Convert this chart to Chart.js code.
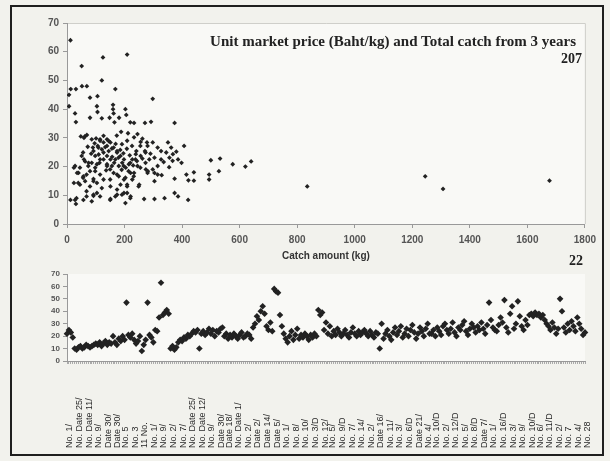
<!DOCTYPE html>
<html>
<head>
<meta charset="utf-8">
<script src="https://cdn.jsdelivr.net/npm/chart.js@4.4.1/dist/chart.umd.min.js"></script>
<style>
  body { margin: 0; background: #f2f2ed; }
  #sheet { position: relative; width: 610px; height: 461px; overflow: hidden; }
  #frame { position: absolute; left: 10px; top: 5px; width: 594px; height: 451px; box-sizing: border-box; border: 2px solid #1f1f1f; }
  canvas { position: absolute; }
  #priceChart { left: 12px; top: 8px; }
  #tripChart { left: 12px; top: 266px; }
  .note { position: absolute; font-family: "Liberation Serif", "Times New Roman", serif; font-weight: bold; color: #222; white-space: nowrap; }
  #title { right: 34px; top: 33px; font-size: 15px; }
  #n207 { right: 28px; top: 51px; font-size: 14px; }
  #n22 { right: 27px; top: 253px; font-size: 14px; }
</style>
</head>
<body>
<div id="sheet">
  <div id="frame"></div>
  <canvas id="priceChart" width="590" height="258"></canvas>
  <canvas id="tripChart" width="590" height="188"></canvas>
  <div class="note" id="title">Unit market price (Baht/kg) and Total catch from 3 years</div>
  <div class="note" id="n207">207</div>
  <div class="note" id="n22">22</div>
</div>
<script>
// catch amount (kg) per landing and its unit price (Baht/kg)
const catchKg = [
  12, 125, 209, 51, 121, 168, 13, 31, 52, 69, 7, 80, 106, 7, 104, 160, 28, 31, 80, 106,
  160, 162, 121, 148, 165, 181, 203, 206, 220, 48, 59, 69, 86, 101, 115, 127, 139, 107, 121, 90,
  145, 156, 174, 191, 209, 226, 241, 255, 273, 278, 28, 45, 59, 75, 40, 57, 80, 98, 113, 127,
  139, 150, 164, 179, 197, 214, 220, 238, 255, 273, 281, 24, 45, 63, 92, 104, 121, 150, 174, 203,
  209, 232, 249, 28, 57, 86, 104, 92, 150, 168, 191, 209, 220, 203, 31, 233, 271, 292, 298, 374,
  245, 256, 280, 298, 315, 327, 351, 362, 368, 356, 345, 327, 315, 304, 280, 298, 256, 271, 286, 245,
  233, 227, 251, 304, 274, 315, 329, 374, 398, 407, 415, 441, 422, 441, 494, 494, 500, 532, 528, 576,
  620, 640, 835, 1245, 1307, 1677, 24, 35, 39, 51, 56, 62, 56, 68, 74, 86, 98, 92, 109, 115,
  127, 139, 151, 162, 174, 186, 198, 168, 180, 192, 204, 215, 227, 239, 127, 139, 151, 156, 139, 115,
  104, 98, 115, 127, 92, 80, 68, 162, 180, 198, 209, 221, 186, 174, 151, 12, 33, 68, 92, 115,
  151, 174, 198, 221, 268, 304, 339, 374, 386, 421, 133, 145, 157, 169, 185, 196, 208, 218, 230, 243,
  262, 110, 96, 84, 72, 63, 136, 190, 173, 188, 212, 233, 262, 290, 304, 336, 355, 367, 380, 386
];
const unitPrice = [
  64, 58, 59, 55, 50, 47, 47, 47, 48, 48, 45, 44, 44.5, 41, 41, 41.5, 38.5, 35.5, 37, 39,
  40, 38.5, 36.8, 37, 35.4, 37, 40, 38, 35.4, 30.5, 30, 31, 29.5, 29.8, 29, 28.4, 27.2, 27.2, 26, 26.6,
  25.4, 26.3, 25.4, 27.8, 29, 27.2, 25.4, 27.2, 24.9, 28.4, 20.2, 19.6, 22.5, 21.3, 17.8, 16.6, 18.4, 19.6, 21.3, 22.5,
  20.2, 19, 21.3, 23.1, 20.2, 18.4, 21.3, 22.5, 19.6, 21.3, 18.4, 14.3, 13.7, 14.9, 15.7, 14.3, 12.5, 15.5, 17.2, 16.1,
  13.7, 16.6, 13.1, 8.4, 8.4, 7.9, 10.8, 9.8, 8.4, 9.6, 10.2, 10.8, 9, 7.3, 7, 35.2, 35.2, 35.6, 43.6, 35.2,
  31.3, 28.6, 27.2, 28.4, 26.6, 25.4, 28.4, 26.6, 24.3, 23.1, 24.9, 22.5, 20.2, 17.8, 17.8, 19, 23.7, 25.4, 22.5, 20.2,
  17.8, 15.5, 13.7, 14.9, 19, 17.2, 17, 15.8, 21.3, 27.2, 17.2, 18, 15.2, 15.1, 17.2, 15.5, 22.2, 22.8, 18.4, 20.8,
  20, 21.8, 13.1, 16.6, 12.2, 15.1, 19.6, 17.8, 14.3, 23.7, 24.9, 30.5, 16.1, 17.2, 20.2, 21.3, 23.7, 25.4, 26.6, 29.5,
  30.7, 29.5, 28.4, 26.6, 24.9, 23.7, 22.5, 22.5, 20.2, 21.3, 19.6, 20.8, 22.5, 24.3, 24.9, 23.7, 22.5, 20.2, 20.8, 22.5,
  20.8, 18.4, 17.2, 15.5, 14.9, 13.1, 11.4, 17.8, 16.6, 15.5, 13.1, 17.8, 13.7, 12, 13.1, 8.4, 9, 9.6, 10.2, 9.6,
  8.7, 10.2, 10.8, 9.6, 8.7, 8.7, 9, 10.8, 9.6, 8.4, 26.8, 28.9, 23.4, 27.9, 25.8, 24.6, 26.2, 23.9, 20.4, 21.9,
  22.8, 24.2, 28.1, 24.5, 26.9, 21.8, 18.7, 18.9, 30.8, 32.1, 31.6, 30.2, 29.7, 24.5, 23.1, 21.6, 19.8, 22, 25.2, 22.5
];

// unit price of each trip, in landing order
const tripPrice = [
  22, 25, 23, 19,
  10, 9, 11, 12, 10, 11, 13, 12, 11, 12, 13,
  14, 13, 15, 12, 14, 16, 13, 15, 14, 20, 15, 13,
  18, 16, 20, 17, 47, 21, 19, 22, 17, 14, 16, 20, 8,
  13, 17, 47, 21, 19, 15, 25, 24, 35, 63, 37, 39, 41, 38,
  10, 12, 9, 11, 15, 17, 16, 19, 18, 21, 20, 22, 24, 23, 25, 10,
  22, 24, 21, 23, 26, 22, 25, 20, 24, 23, 26, 27,
  20, 22, 18, 21, 19, 22, 20, 18, 21, 23, 19, 20, 22, 21, 18,
  27, 30, 36, 33, 40, 44, 38, 28, 25, 31, 24, 58, 56, 55, 37,
  28, 22, 18, 15, 20, 24, 17, 21, 26, 18, 21, 19, 22, 20, 17, 21, 19, 22, 20,
  41, 37, 39, 25, 31, 22, 28, 20,
  24, 21, 26, 23, 20, 22, 25, 21, 19, 23, 27, 22, 20, 24, 21, 23, 25, 22, 20, 24, 21, 19, 23, 22,
  10, 30,
  18, 22, 25, 20, 17, 23, 27, 21, 24, 28, 19, 22, 26, 20, 25, 29, 23, 18, 22, 27, 24, 20, 26, 30, 22,
  22, 25, 20, 27, 24, 21, 28, 30, 25, 22, 26, 31, 23, 20, 27, 25, 29, 32, 24, 21, 26, 30, 27, 23, 28,
  25, 31, 26, 22, 29, 47, 33, 27, 25,
  24, 29, 35, 31, 49, 27, 23, 38, 44, 26, 30, 48, 36, 28, 25, 33, 29,
  37, 38, 36, 39, 37, 38, 35, 37, 33, 30, 28, 25, 31, 27, 22, 26, 50, 40,
  27, 23, 30, 25, 32, 28, 24, 35, 30, 26, 21, 23
];

// trip names printed under the lower axis
const tripNames = [
  'No. 1/', 'No. Date 25/', 'No. Date 11/', 'No. 9/', 'Date 30/', 'Date 30/', 'No. 5', 'No. 3',
  '11 No.', 'No. 1/', 'No. 9/', 'No. 2/', 'No. 7/', 'No. Date 25/', 'No. Date 12/', 'No. 9/',
  'Date 30/', 'Date 18/', 'No. Date 1/', 'No. 2/', 'Date 2/', 'Date 14/', 'Date 5/', 'No. 1/',
  'No. 8/', 'No. 10/', 'No. 3/D', 'No. 12/', 'No. 5/', 'No. 9/D', 'No. 7/', 'No. 14/',
  'No. 2/', 'Date 16/', 'No. 11/', 'No. 3/', 'No. 6/D', 'Date 21/', 'No. 4/', 'No. 10/D',
  'No. 2/', 'No. 12/D', 'No. 5/', 'No. 8/D', 'Date 7/', 'No. 1/', 'No. 16/D', 'No. 3/',
  'No. 9/', 'No. 10/D', 'No. 6/', 'No. 11/D', 'No. 2/', 'No. 7', 'No. 4/', 'No. 28'
];

const tripIndex = tripPrice.map((_, i) => String(i + 1));

const inkColor = '#222';
const sansFamily = 'Liberation Sans, Arial, sans-serif';
const tickFont = { family: sansFamily, size: 10, weight: 'bold' };

// pale plot area with a thin top/right edge
const plotFrame = {
  id: 'plotFrame',
  beforeDraw(chart, args, opts) {
    const { ctx, chartArea: a } = chart;
    ctx.save();
    ctx.fillStyle = opts.fill;
    ctx.fillRect(a.left, a.top, a.width, a.height);
    if (opts.edge) {
      ctx.strokeStyle = opts.edge;
      ctx.lineWidth = 1;
      ctx.beginPath();
      ctx.moveTo(a.left, a.top + 0.5);
      ctx.lineTo(a.right + 0.5, a.top + 0.5);
      ctx.lineTo(a.right + 0.5, a.bottom);
      ctx.stroke();
    }
    ctx.restore();
  }
};

// vertical trip names, bottom aligned
const tripNameLabels = {
  id: 'tripNameLabels',
  afterDraw(chart) {
    const { ctx } = chart;
    const x = chart.scales.x;
    const base = chart.height - 6;
    ctx.save();
    ctx.font = '9px "Liberation Sans", Arial, sans-serif';
    ctx.fillStyle = '#2a2a2a';
    ctx.textAlign = 'left';
    ctx.textBaseline = 'middle';
    tripNames.forEach((name, j) => {
      const idx = Math.round(j * (tripPrice.length - 1) / (tripNames.length - 1));
      ctx.save();
      ctx.translate(x.getPixelForValue(idx) + 3, base);
      ctx.rotate(-Math.PI / 2);
      ctx.fillText(name, 0, 0);
      ctx.restore();
    });
    ctx.restore();
  }
};

new Chart(document.getElementById('priceChart'), {
  type: 'scatter',
  data: {
    datasets: [{
      data: catchKg.map((c, i) => ({ x: c, y: unitPrice[i] })),
      backgroundColor: inkColor,
      borderColor: inkColor,
      pointStyle: 'rectRot',
      pointRadius: 2.4,
      borderWidth: 0
    }]
  },
  options: {
    responsive: false,
    animation: false,
    devicePixelRatio: 1,
    layout: { padding: { top: 15, right: 15, left: 0, bottom: 0 } },
    plugins: {
      legend: { display: false },
      tooltip: { enabled: false },
      plotFrame: { fill: '#f9f9f6', edge: '#cfcfca' }
    },
    scales: {
      x: {
        type: 'linear', min: 0, max: 1800,
        ticks: { stepSize: 200, color: '#555', font: tickFont, padding: 6, maxRotation: 0, callback: v => String(v) },
        grid: { drawOnChartArea: false, tickLength: 4, color: '#999' },
        border: { color: '#999' },
        title: { display: true, text: 'Catch amount (kg)', color: '#333', font: { family: sansFamily, size: 10, weight: 'bold' }, padding: { top: 6 } },
        afterFit: s => { s.height = 42; }
      },
      y: {
        min: 0, max: 70,
        ticks: { stepSize: 10, color: '#555', font: tickFont, padding: 4 },
        grid: { drawOnChartArea: false, tickLength: 4, color: '#999' },
        border: { color: '#999' },
        afterFit: s => { s.width = 55; }
      }
    }
  },
  plugins: [plotFrame]
});

new Chart(document.getElementById('tripChart'), {
  type: 'line',
  data: {
    labels: tripIndex,
    datasets: [{
      data: tripPrice,
      showLine: false,
      backgroundColor: inkColor,
      borderColor: inkColor,
      pointStyle: 'rectRot',
      pointRadius: 3.3,
      borderWidth: 0
    }]
  },
  options: {
    responsive: false,
    animation: false,
    devicePixelRatio: 1,
    layout: { padding: { top: 8, right: 17, left: 0, bottom: 0 } },
    plugins: {
      legend: { display: false },
      tooltip: { enabled: false },
      plotFrame: { fill: '#f9f9f6' }
    },
    scales: {
      x: {
        type: 'category', offset: false,
        ticks: { display: false, autoSkip: false },
        grid: { drawOnChartArea: false, tickLength: 3, color: '#aaa' },
        border: { color: '#999' },
        afterFit: s => { s.height = 93; }
      },
      y: {
        min: 0, max: 70,
        ticks: { stepSize: 10, autoSkip: false, color: '#555', font: { family: sansFamily, size: 8, weight: 'bold' }, padding: 3 },
        grid: { drawOnChartArea: false, tickLength: 4, color: '#999' },
        border: { color: '#999' },
        afterFit: s => { s.width = 55; }
      }
    }
  },
  plugins: [plotFrame, tripNameLabels]
});
</script>
</body>
</html>
